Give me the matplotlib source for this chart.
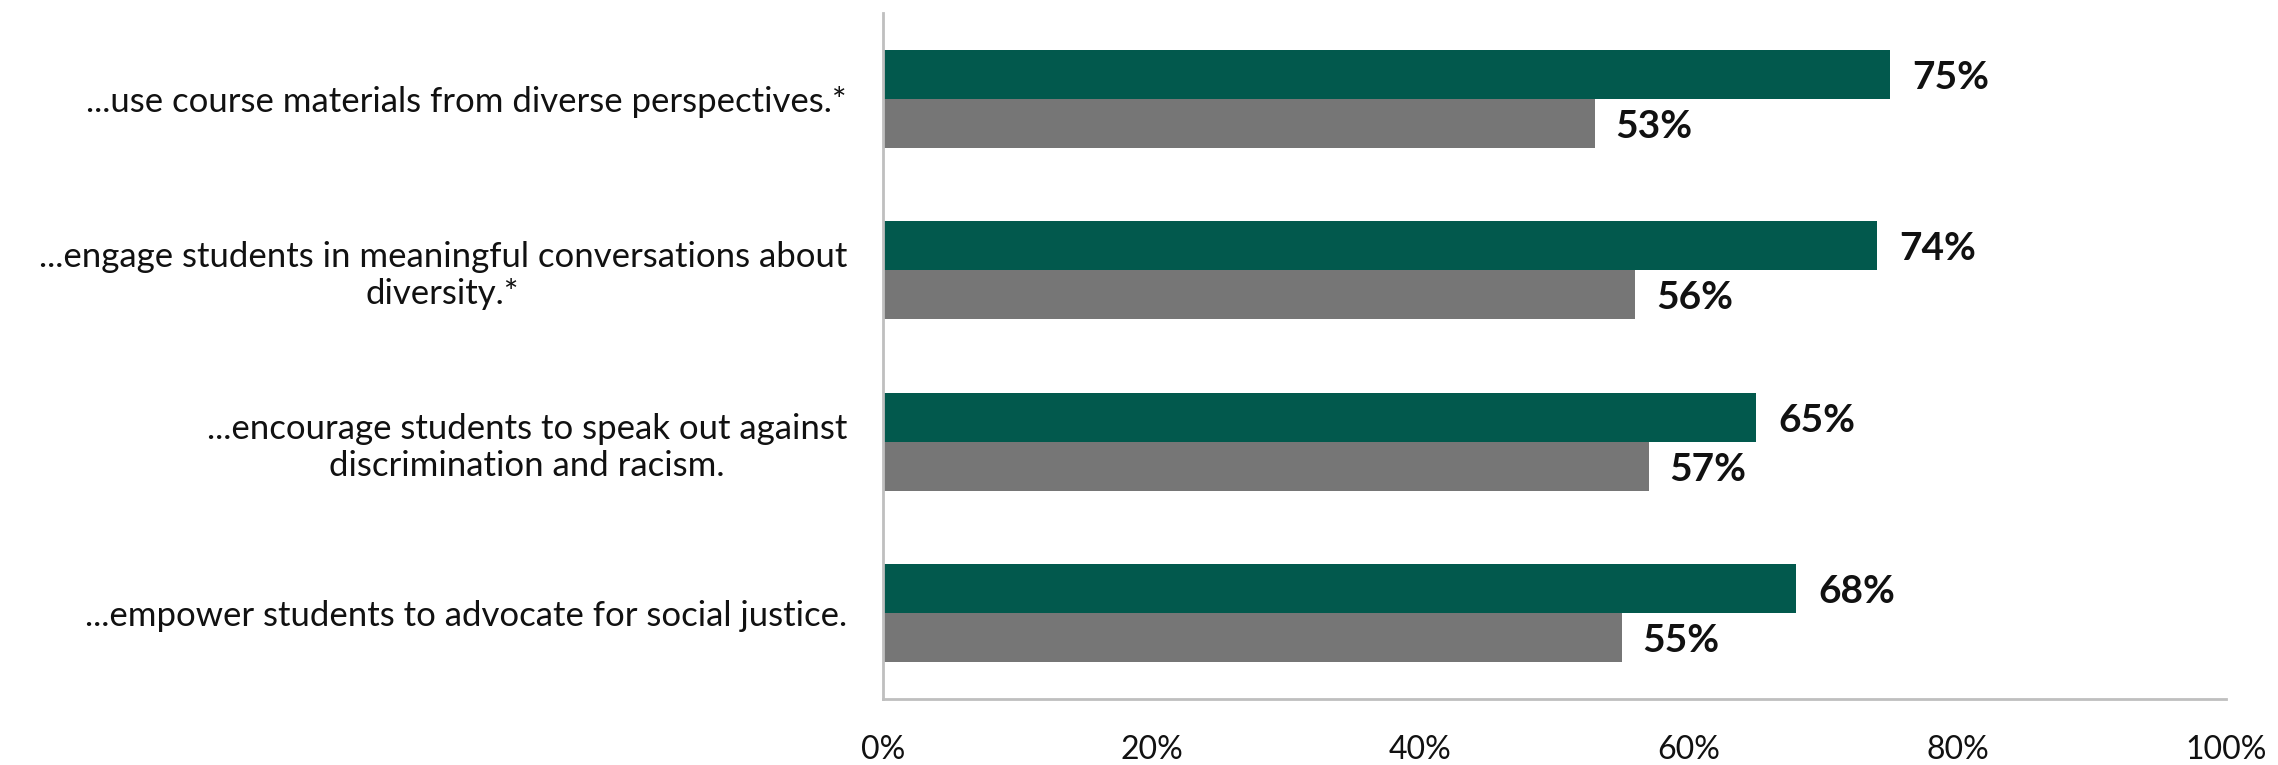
import matplotlib
matplotlib.use("Agg")
import matplotlib.pyplot as plt
import numpy as np

categories = [
    "...use course materials from diverse perspectives.*",
    "...engage students in meaningful conversations about\ndiversity.*",
    "...encourage students to speak out against\ndiscrimination and racism.",
    "...empower students to advocate for social justice.",
]
series_a = [75, 74, 65, 68]   # green
series_b = [53, 56, 57, 55]   # gray
xtick_vals = [0, 20, 40, 60, 80, 100]
xtick_labels = ["0%", "20%", "40%", "60%", "80%", "100%"]

GREEN = "#02594D"
GRAY = "#767676"
AXIS = "#BFBFBF"

plt.rcParams['font.family'] = ['Lato', 'DejaVu Sans']

fig = plt.figure(figsize=(22.78, 7.65), dpi=100)
ax = fig.add_axes([883/2278, 66/765, (2226-883)/2278, (752-66)/765])

y = np.arange(len(categories))
h = 0.286
ax.barh(y - h/2, series_a, height=h, color=GREEN)
ax.barh(y + h/2, series_b, height=h, color=GRAY)

for yi, v in zip(y, series_a):
    ax.annotate(f"{v}%", (v, yi - h/2), xytext=(16, -2), textcoords="offset points",
                ha="left", va="center", fontsize=28, fontweight="bold", color="#111111")
for yi, v in zip(y, series_b):
    ax.annotate(f"{v}%", (v, yi + h/2), xytext=(15, -2), textcoords="offset points",
                ha="left", va="center", fontsize=28, fontweight="bold", color="#111111")

ax.set_xlim(0, 100)
ax.set_ylim(len(categories) - 0.5, -0.5)
ax.set_yticks(y)
ax.set_yticklabels(categories, fontsize=25, color="#111111", multialignment="center")
ax.set_xticks(xtick_vals)
ax.set_xticklabels(xtick_labels, fontsize=23, color="#111111")
ax.tick_params(axis="y", length=0, pad=26)
ax.tick_params(axis="x", length=0, pad=26)

for s in ["top", "right"]:
    ax.spines[s].set_visible(False)
for s in ["left", "bottom"]:
    ax.spines[s].set_color(AXIS)
    ax.spines[s].set_linewidth(2)

fig.savefig("out.png", dpi=100, facecolor="white")
